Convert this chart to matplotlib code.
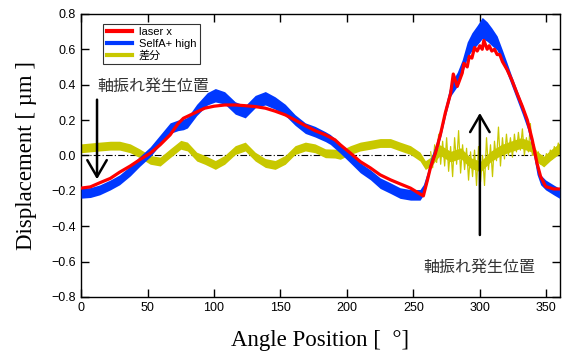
import numpy as np
import matplotlib
matplotlib.use("Agg")
import matplotlib.pyplot as plt

# laser x
red_x = [0, 7, 14, 22, 29, 37, 44, 52, 59.5, 67, 73, 77, 84, 93, 100, 108, 116,
         123.5, 131, 138.6, 146, 153.6, 161, 168.7, 176, 183.8, 191, 195, 202.6,
         210, 217.7, 225, 232.7, 240, 247.8, 255, 257.5, 260.6, 262.8, 266.6,
         270.4, 274, 278, 280, 283, 286.7, 288, 290.5, 292, 294, 296, 298, 300,
         301.8, 303, 305.5, 307, 309, 311, 313, 315, 317, 320.6, 324, 328, 332,
         335.7, 339.4, 343, 345.7, 349.5, 355.5, 360]
red_y = [-0.185, -0.178, -0.155, -0.13, -0.095, -0.06, -0.025, 0.012, 0.06, 0.116,
         0.18, 0.21, 0.235, 0.267, 0.278, 0.285, 0.285, 0.281, 0.276, 0.267, 0.25,
         0.229, 0.2, 0.168, 0.14, 0.116, 0.088, 0.06, 0.013, -0.035, -0.071,
         -0.11, -0.138, -0.161, -0.185, -0.218, -0.229, -0.138, -0.07, 0.014,
         0.12, 0.24, 0.35, 0.46, 0.39, 0.465, 0.52, 0.5, 0.56, 0.55, 0.61, 0.59,
         0.62, 0.6, 0.65, 0.6, 0.62, 0.59, 0.6, 0.57, 0.57, 0.53, 0.483, 0.427,
         0.35, 0.276, 0.2, 0.088, -0.044, -0.12, -0.176, -0.19, -0.19]

# SelfA+ high: centre and half band width
blue_x = [0, 7, 14, 22, 29, 37, 44, 52, 59.5, 67, 73, 77, 80, 87, 95, 101, 108,
          116, 123.5, 131, 138.6, 146, 153.6, 161, 168.7, 176, 183.8, 187.5, 195,
          202.6, 210, 217.7, 225, 232.7, 240, 247.8, 255, 257.5, 260.6, 262.8,
          266.6, 270.4, 274, 278, 283, 286.7, 290.5, 294, 298, 301.8, 305.5, 309,
          313, 317, 320.6, 324, 328, 332, 335.7, 339.4, 343, 345.7, 349.5, 355.5, 360]
blue_y = [-0.214, -0.21, -0.195, -0.167, -0.138, -0.088, -0.035, 0.02, 0.088,
          0.154, 0.17, 0.175, 0.185, 0.257, 0.32, 0.34, 0.325, 0.268, 0.247, 0.304,
          0.323, 0.296, 0.257, 0.2, 0.154, 0.134, 0.106, 0.09, 0.04, -0.015,
          -0.07, -0.11, -0.157, -0.185, -0.213, -0.223, -0.223, -0.195, -0.12,
          -0.05, 0.03, 0.13, 0.25, 0.37, 0.43, 0.5, 0.596, 0.643, 0.68, 0.72,
          0.70, 0.67, 0.635, 0.56, 0.49, 0.42, 0.34, 0.26, 0.18, 0.07, -0.08,
          -0.138, -0.167, -0.195, -0.215]
blue_w = [0.028, 0.028, 0.028, 0.028, 0.028, 0.028, 0.028, 0.028, 0.028, 0.03,
          0.03, 0.03, 0.03, 0.032, 0.035, 0.038, 0.035, 0.035, 0.035, 0.035,
          0.038, 0.035, 0.032, 0.03, 0.03, 0.03, 0.028, 0.028, 0.028, 0.028,
          0.028, 0.028, 0.03, 0.03, 0.03, 0.03, 0.03, 0.03, 0.028, 0.028, 0.028,
          0.028, 0.03, 0.035, 0.04, 0.04, 0.045, 0.05, 0.055, 0.06, 0.055, 0.05,
          0.04, 0.035, 0.03, 0.028, 0.028, 0.028, 0.028, 0.028, 0.028, 0.028,
          0.028, 0.028, 0.028]

# 差分: calm part (0-263)
yel_x = [0, 7, 14, 22, 29, 37, 44, 52, 59.5, 67, 75, 80, 87, 93, 101, 108, 116,
         123.5, 131, 138.6, 146, 153.6, 161, 168.7, 176, 183.8, 191, 195, 202.6,
         210, 217.7, 225, 232.7, 240, 247.8, 255, 259, 263]
yel_y = [0.04, 0.045, 0.05, 0.055, 0.055, 0.04, 0.012, -0.025, -0.035, 0.012,
         0.06, 0.05, -0.007, -0.025, -0.054, -0.025, 0.03, 0.05, -0.007, -0.043,
         -0.054, -0.025, 0.03, 0.05, 0.04, 0.012, 0.01, 0.003, 0.03, 0.05, 0.06,
         0.07, 0.07, 0.05, 0.03, -0.007, -0.055, -0.035]

# 差分: noisy part (263-360), centre and spikes
yc_x = [263, 270, 278, 285.6, 293, 300.6, 308, 315.8, 323, 331, 338.6, 343, 348, 353, 360]
yc_y = [-0.035, 0.03, -0.007, 0.013, -0.043, -0.063, -0.007, 0.03, 0.05, 0.07,
        0.05, -0.007, -0.035, 0.0, 0.04]
ys_x = [263, 264.5, 266, 267.5, 269, 270.5, 272, 273.5, 275, 276.5, 278, 279.5,
        281, 282.5, 284, 285.5, 287, 288.5, 290, 291.5, 293, 294.5, 296, 297.5,
        299, 300.5, 302, 303.5, 305, 306.5, 308, 309.5, 311, 312.5, 314, 315.5,
        317, 318.5, 320, 321.5, 323, 324.5, 326, 327.5, 329, 330.5, 332, 333.5,
        335, 336.5, 338, 339.5, 341, 342.5, 344, 345.5, 347, 348.5, 350, 351.5,
        353, 354.5, 356, 357.5, 359, 360]
ys_y = [0.02, -0.07, 0.06, -0.04, 0.12, -0.05, 0.08, -0.06, 0.1, -0.09, 0.05,
        -0.12, 0.1, -0.05, 0.14, -0.1, 0.06, -0.08, 0.04, -0.14, 0.02, -0.12,
        0.03, -0.17, 0.05, -0.15, 0.0, -0.17, 0.1, -0.08, 0.06, -0.12, 0.08,
        -0.03, 0.16, -0.06, 0.1, -0.02, 0.12, 0.0, 0.1, -0.01, 0.12, 0.02, 0.13,
        0.03, 0.15, 0.0, 0.1, 0.02, 0.18, 0.0, 0.06, -0.04, 0.02, -0.05, 0.0,
        -0.06, 0.01, -0.04, 0.03, -0.02, 0.05, 0.01, 0.07, 0.03]

xticks = [0, 50, 100, 150, 200, 250, 300, 350]
yticks = [-0.8, -0.6, -0.4, -0.2, 0.0, 0.2, 0.4, 0.6, 0.8]

RED = "#ff0000"
BLUE = "#0038ff"
YEL = "#c8c800"

fig = plt.figure(figsize=(5.63, 3.56), dpi=100)
ax = fig.add_axes([0.144, 0.166, 0.850, 0.795])

ax.axhline(0, color="black", lw=0.8, ls=(0, (6, 2, 1, 2)), zorder=1)

# yellow
yy = np.array(yel_y)
ax.fill_between(yel_x, yy - 0.025, yy + 0.025, color=YEL, lw=0, zorder=2)
yc = np.array(yc_y)
ax.fill_between(yc_x, yc - 0.03, yc + 0.03, color=YEL, lw=0, zorder=2)
ax.plot(ys_x, ys_y, color=YEL, lw=0.9, zorder=2)

# blue
by = np.array(blue_y)
bw = np.array(blue_w)
ax.fill_between(blue_x, by - bw, by + bw, color=BLUE, lw=0, zorder=3)

# red
ax.plot(red_x, red_y, color=RED, lw=2.3, zorder=4)

# legend
ax.plot([], [], color=RED, lw=3, label="laser x")
ax.plot([], [], color=BLUE, lw=3, label="SelfA+ high")
ax.plot([], [], color=YEL, lw=3, label="差分")
leg = ax.legend(loc="upper left", bbox_to_anchor=(0.035, 0.985), frameon=True,
                fancybox=False, edgecolor="black", handlelength=2.3,
                borderpad=0.3, labelspacing=0.15, handletextpad=0.6,
                prop={"family": ["Liberation Sans", "Noto Sans CJK JP"], "size": 8})
leg.get_frame().set_linewidth(0.8)

# arrows
head = "->,head_length=1.2,head_width=0.7"
ax.annotate("", xy=(12, -0.135), xytext=(12, 0.315),
            arrowprops=dict(arrowstyle=head, color="black", lw=1.8,
                            mutation_scale=10, shrinkA=0, shrinkB=0), zorder=5)
ax.annotate("", xy=(300, 0.24), xytext=(300, -0.45),
            arrowprops=dict(arrowstyle=head, color="black", lw=1.8,
                            mutation_scale=10, shrinkA=0, shrinkB=0), zorder=5)
jp = ["Noto Sans CJK JP", "DejaVu Sans"]
ax.text(12, 0.39, "軸振れ発生位置", family=jp, fontsize=11.5, color="#333333",
        ha="left", va="center")
ax.text(300, -0.635, "軸振れ発生位置", family=jp, fontsize=11.5, color="#333333",
        ha="center", va="center")

ax.set_xlim(0, 360)
ax.set_ylim(-0.8, 0.8)
ax.set_xticks(xticks)
ax.set_yticks(yticks)
ax.set_yticklabels([f"{v:.1f}".replace("-", "\u2212") for v in yticks])
ax.tick_params(direction="in", length=6, width=1, top=True, right=True,
               labelsize=9, pad=4)
for lab in ax.get_xticklabels() + ax.get_yticklabels():
    lab.set_family("Liberation Sans")
for s in ax.spines.values():
    s.set_linewidth(1.0)

ax.set_xlabel("Angle Position [  °]", family="Liberation Serif", fontsize=16.5, labelpad=11)
ax.set_ylabel("Displacement [ µm ]", family="Liberation Serif", fontsize=16.5, labelpad=10)

fig.savefig("out.png", dpi=100)
